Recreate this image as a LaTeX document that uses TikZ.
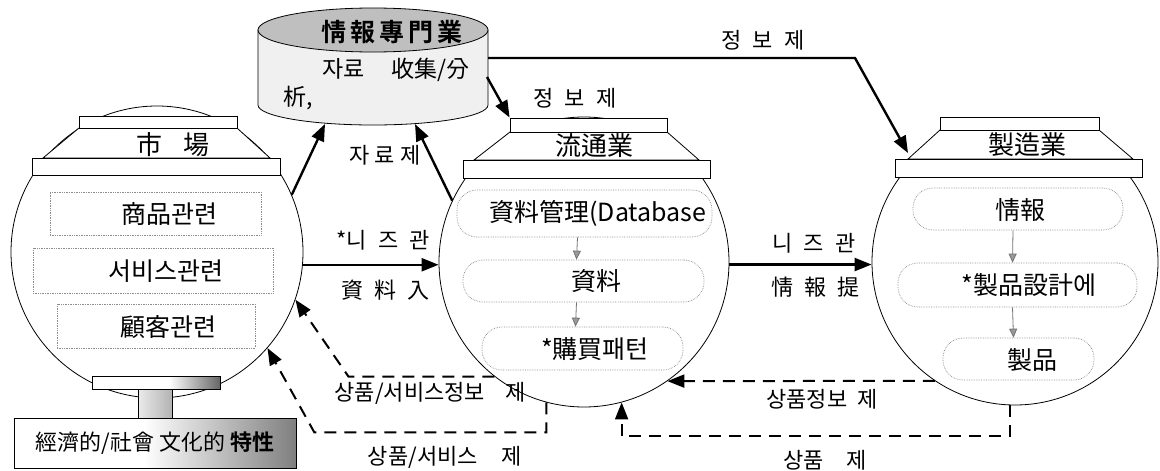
\documentclass[tikz,border=0pt]{standalone}
\usepackage{fontspec}
\setmainfont{Noto Sans CJK KR}[BoldFont={Noto Sans CJK KR Bold}]
\usetikzlibrary{arrows.meta}
\pgfdeclarehorizontalshading{boxshade}{100bp}{color(0bp)=(white); color(25bp)=(white); color(48bp)=(white); color(75bp)=(black!50); color(100bp)=(black!50)}
\pgfdeclarehorizontalshading{baseshade}{100bp}{color(0bp)=(white); color(25bp)=(white); color(55bp)=(white); color(75bp)=(black!60); color(100bp)=(black!60)}
\newcommand{\lgap}{\hspace{11pt}}
\tikzset{
  jarline/.style={draw=black, line width=0.8pt},
  jarcircle/.style={draw, circle, line width=0.8pt, inner sep=0pt, fill=white},
  jarrect/.style={draw, fill=white, line width=0.8pt, inner sep=0pt, rectangle},
  jarname/.style={font=\fontsize{26}{30}\selectfont, inner sep=0pt},
  itemtext/.style={font=\fontsize{25}{29}\selectfont, inner sep=0pt},
  itembox/.style={draw=black!45, densely dotted, line width=0.7pt, inner sep=0pt, rectangle},
  rounditem/.style={itembox, rounded corners=20pt},
  smallarrow/.style={draw=black!55, line width=0.8pt, -{Triangle[length=9pt,width=8pt,fill=black!40]}},
  bigarrow/.style={line width=2.4pt, -{Triangle[length=17pt,width=13pt]}},
  dasharrow/.style={line width=2pt, dash pattern=on 12pt off 8pt, -{Triangle[length=17pt,width=13pt]}},
  lbl/.style={font=\fontsize{22}{26}\selectfont, inner sep=0pt},
}
\begin{document}
\begin{tikzpicture}[x=1pt,y=-1pt, line join=miter]
\useasboundingbox (0,0) rectangle (1160,471);

% ---------- cylinder (information specialists) ----------
\filldraw[jarline, fill=black!6] (258,30) -- (258,105) arc[start angle=180, end angle=0, x radius=115, y radius=20] -- (488,30) -- cycle;
\filldraw[jarline, fill=black!25] (373,30) ellipse [x radius=115, y radius=22];
\node[font=\fontsize{25}{28}\selectfont\bfseries, inner sep=0pt] (cylhead) at (392,32) {情\,報\,專\,門\,業};
\node[itemtext, font=\fontsize{23}{27}\selectfont] (cyltxt1) at (396,70) {자료\hspace{26pt}收集/分};
\node[itemtext, font=\fontsize{23}{27}\selectfont, anchor=west] (cyltxt2) at (283,98) {析,};
\coordinate (cylB1) at (325,124);
\coordinate (cylB2) at (415,124);
\coordinate (cylR1) at (487,77);
\coordinate (cylR2) at (488,58);

% ---------- market jar ----------
\node[jarcircle, minimum size=292pt] (mkt) at (157,252) {};
\filldraw[jarline, fill=white] (79,128) -- (43,158) -- (270,158) -- (237,128) -- cycle;
\node[jarrect, minimum width=158pt, minimum height=12pt] (mkttop) at (158,122) {};
\node[jarrect, minimum width=248pt, minimum height=17pt] (mktrim) at (156,166.5) {};
\node[jarname] (mktname) at (173,145) {市\hspace{22pt}場};
\node[itembox, minimum width=211pt, minimum height=43pt] (mk1) at (155.5,213.5) {};
\node[itembox, minimum width=240pt, minimum height=45pt] (mk2) at (153,270.5) {};
\node[itembox, minimum width=198pt, minimum height=44pt] (mk3) at (156,326) {};
\node[itemtext] (mk1t) at (169,214) {商品관련};
\node[itemtext] (mk2t) at (166,271) {서비스관련};
\node[itemtext] (mk3t) at (168,327) {顧客관련};

% stand
\node[draw, line width=0.8pt, shade, shading=baseshade, minimum width=128pt, minimum height=13pt, inner sep=0pt] (stbase) at (156,382.5) {};
\node[draw, line width=0.8pt, left color=black!8, right color=black!30, minimum width=34pt, minimum height=29pt, inner sep=0pt] (ststem) at (155,403.5) {};
\node[draw, line width=0.8pt, shade, shading=boxshade, minimum width=282pt, minimum height=50pt, inner sep=0pt, font=\fontsize{22}{26}\selectfont] (stbox) at (155,443) {經濟的/社會 文化的 \textbf{特性}};

% ---------- distribution jar ----------
\node[jarcircle, minimum size=290pt] (dist) at (584,262) {};
\filldraw[jarline, fill=white] (510,132) -- (474,160) -- (699,160) -- (667,132) -- cycle;
\node[jarrect, minimum width=157pt, minimum height=14pt] (disttop) at (588.5,125) {};
\node[jarrect, minimum width=247pt, minimum height=18pt] (distrim) at (586.5,169) {};
\node[jarname] (distname) at (594,146) {流通業};
\node[rounditem, minimum width=255pt, minimum height=47pt] (d1) at (584.5,213.5) {};
\node[rounditem, minimum width=241pt, minimum height=42pt] (d2) at (583.5,281) {};
\node[rounditem, minimum width=201pt, minimum height=43pt] (d3) at (582.5,348.5) {};
\node[itemtext] (d1t) at (598,213) {資料管理(Database};
\node[itemtext] (d2t) at (596,281) {資料};
\node[itemtext] (d3t) at (595,349) {*購買패턴};
\draw[smallarrow] ([xshift=-7pt]d1.south) -- ([xshift=-7pt]d2.north);
\draw[smallarrow] ([xshift=-7pt]d2.south) -- ([xshift=-7pt]d3.north);

% ---------- manufacturing jar ----------
\node[jarcircle, minimum size=286pt] (mfg) at (1015,262) {};
\filldraw[jarline, fill=white] (940,130) -- (908,159) -- (1133,159) -- (1099,130) -- cycle;
\node[jarrect, minimum width=159pt, minimum height=13pt] (mfgtop) at (1019.5,123.5) {};
\node[jarrect, minimum width=247pt, minimum height=18pt] (mfgrim) at (1018.5,168) {};
\node[jarname] (mfgname) at (1027,145) {製造業};
\node[rounditem, minimum width=210pt, minimum height=42pt] (m1) at (1018,209) {};
\node[rounditem, minimum width=239pt, minimum height=44pt] (m2) at (1017.5,285) {};
\node[rounditem, minimum width=151pt, minimum height=42pt] (m3) at (1018.5,359) {};
\node[itemtext] (m1t) at (1020,210) {情報};
\node[itemtext] (m2t) at (1029,285) {*製品設計에};
\node[itemtext] (m3t) at (1032,360) {製品};
\draw[smallarrow] ([xshift=-5pt]m1.south) -- ([xshift=-5pt]m2.north);
\draw[smallarrow] ([xshift=-5pt]m2.south) -- ([xshift=-5pt]m3.north);
\coordinate (mfgin) at (908,153);
\coordinate (bendR) at (855,58);

% ---------- solid connectors ----------
\draw[bigarrow] (mkt.23) -- (cylB1);
\draw[bigarrow] (dist.155) -- (cylB2);
\draw[bigarrow] (cylR1) -- (disttop.north west);
\draw[bigarrow] (cylR2) -- (bendR) -- (mfgin);
\draw[bigarrow] (mkt.-5) -- (mkt.-5 -| dist.west);
\draw[bigarrow] (dist.-1) -- (dist.-1 -| mfg.west);

% ---------- dashed connectors ----------
\draw[dasharrow] (dist.232) -- ++(-146,0) -- (mkt.-19.5);
\draw[dasharrow] (dist.255) -- ++(0,30) -- ++(-232,0) -- (mkt.-41.5);
\draw[dasharrow] (mfg.236) -- (dist.-55.5);
\draw[dasharrow] (mfg.268) -- ++(0,31) -| (dist.-75);

% ---------- labels ----------
\node[lbl] (l1) at (385,155) {자\hspace{5pt}료\hspace{5pt}제};
\node[lbl] (l2) at (575,98) {정\lgap 보\lgap 제};
\node[lbl] (l3) at (763,40) {정\lgap 보\lgap 제};
\node[lbl] (l4) at (383,240) {*니\lgap 즈\lgap 관};
\node[lbl] (l5) at (385,290) {資\lgap 料\lgap 入};
\node[lbl] (l6) at (814,243) {니\lgap 즈\lgap 관};
\node[lbl] (l7) at (815,287) {情\lgap 報\lgap 提};
\node[lbl] (l8) at (430,393) {상품/서비스정보\hspace{20pt}제};
\node[lbl] (l9) at (445,457) {상품/서비스\hspace{24pt}제};
\node[lbl] (l10) at (822,399) {상품정보\hspace{10pt}제};
\node[lbl] (l11) at (825,460) {상품\hspace{22pt}제};
\end{tikzpicture}
\end{document}
